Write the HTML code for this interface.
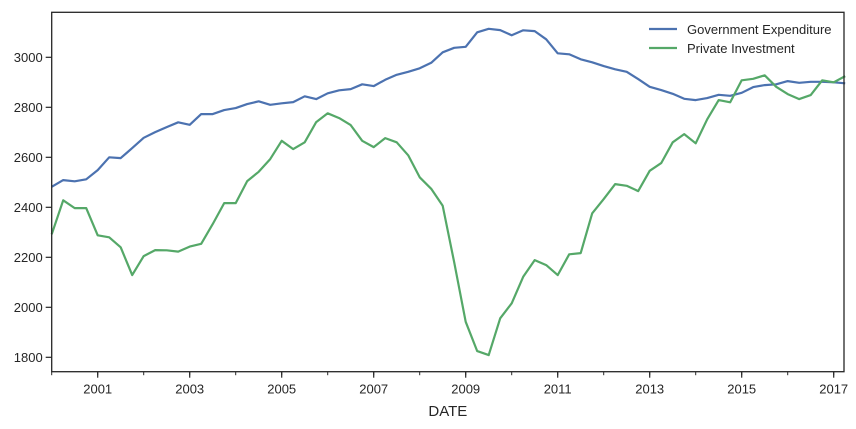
<!DOCTYPE html>
<html><head><meta charset="utf-8"><style>
html,body{margin:0;padding:0;background:#fff;}
svg text{font-family:"Liberation Sans",Arial,sans-serif;fill:#262626;}
</style></head><body>
<svg id="chart" width="856" height="424"></svg>
<script>
const govValues=[2482,2509,2504,2512,2549,2600,2597,2637,2678,2701,2721,2740,2730,2773,2773,2789,2797,2813,2824,2810,2816,2821,2844,2833,2856,2868,2873,2892,2885,2910,2930,2942,2956,2978,3020,3038,3042,3100,3114,3109,3088,3108,3105,3072,3016,3012,2992,2980,2965,2952,2942,2913,2882,2869,2854,2834,2829,2837,2850,2846,2858,2881,2889,2892,2905,2898,2902,2902,2900,2896];
const invValues=[2292,2428,2397,2397,2288,2280,2240,2129,2205,2229,2228,2223,2243,2254,2333,2417,2417,2505,2542,2593,2666,2633,2660,2741,2776,2757,2729,2666,2641,2677,2660,2608,2520,2474,2406,2180,1942,1825,1809,1956,2016,2122,2189,2169,2129,2212,2217,2376,2433,2493,2486,2465,2546,2577,2660,2693,2656,2752,2829,2820,2908,2914,2928,2882,2853,2833,2849,2908,2900,2925];
const startYear=2000;
const yTicks=[1800,2000,2200,2400,2600,2800,3000];
const xTickLabels=[2001,2003,2005,2007,2009,2011,2013,2015,2017];
const seriesNames=["Government Expenditure","Private Investment"];
const L=51.7,R=844,T=12.3,B=371.7;
const x0=2000,pxPerYear=46;
const xS=t=>L+(t-x0)*pxPerYear;
const yS=v=>357.3-(v-1800)*0.25;
const svg=document.getElementById('chart');
const NS='http://www.w3.org/2000/svg';
function mk(tag,attrs,parent){const e=document.createElementNS(NS,tag);for(const k in attrs)e.setAttribute(k,attrs[k]);(parent||svg).appendChild(e);return e;}
// y ticks
yTicks.forEach(v=>{
  const y=yS(v);
  const t=mk('line',{x1:L-6,x2:L,y1:y,y2:y,stroke:'#262626','stroke-width':1.2});
  
  
  const lb=mk('text',{x:L-9,y:y+4.5,'text-anchor':'end','font-size':13});
  lb.textContent=v;
  
  
});
// minor x ticks
for(let yr=2000;yr<=2017;yr++){
  const x=xS(yr);
  const t=mk('line',{x1:x,x2:x,y1:B,y2:B+3.5,stroke:'#262626','stroke-width':1});
  
  
}
xTickLabels.forEach(yr=>{
  const x=xS(yr);
  const t=mk('line',{x1:x,x2:x,y1:B,y2:B+6,stroke:'#262626','stroke-width':1.2});
  
  
  const lb=mk('text',{x:x,y:B+22,'text-anchor':'middle','font-size':13});
  lb.textContent=yr;
  
  
});
const xt=mk('text',{x:(L+R)/2,y:416,'text-anchor':'middle','font-size':15});
xt.textContent='DATE';


function line(vals,color,name){
  const d=vals.map((v,i)=>(i?'L':'M')+xS(startYear+i*0.25).toFixed(1)+','+yS(v).toFixed(1)).join(' ');
  const p=mk('path',{d:d,fill:'none',stroke:color,'stroke-width':2.2,'stroke-linejoin':'round'});
  
  
}
line(govValues,'#4c72b0','government-expenditure-line');
line(invValues,'#55a868','private-investment-line');
const frame=mk('rect',{x:L,y:T,width:R-L,height:B-T,fill:'none',stroke:'#262626','stroke-width':1.3});


// legend
[['#4c72b0',29],['#55a868',48]].forEach((c,i)=>{
  const g=mk('g',{});
  
  
  mk('line',{x1:649,x2:677,y1:c[1],y2:c[1],stroke:c[0],'stroke-width':2.2},g);
  const tx=mk('text',{x:687,y:c[1]+5,'font-size':13},g);
  tx.textContent=seriesNames[i];
});
</script>
</body></html>
